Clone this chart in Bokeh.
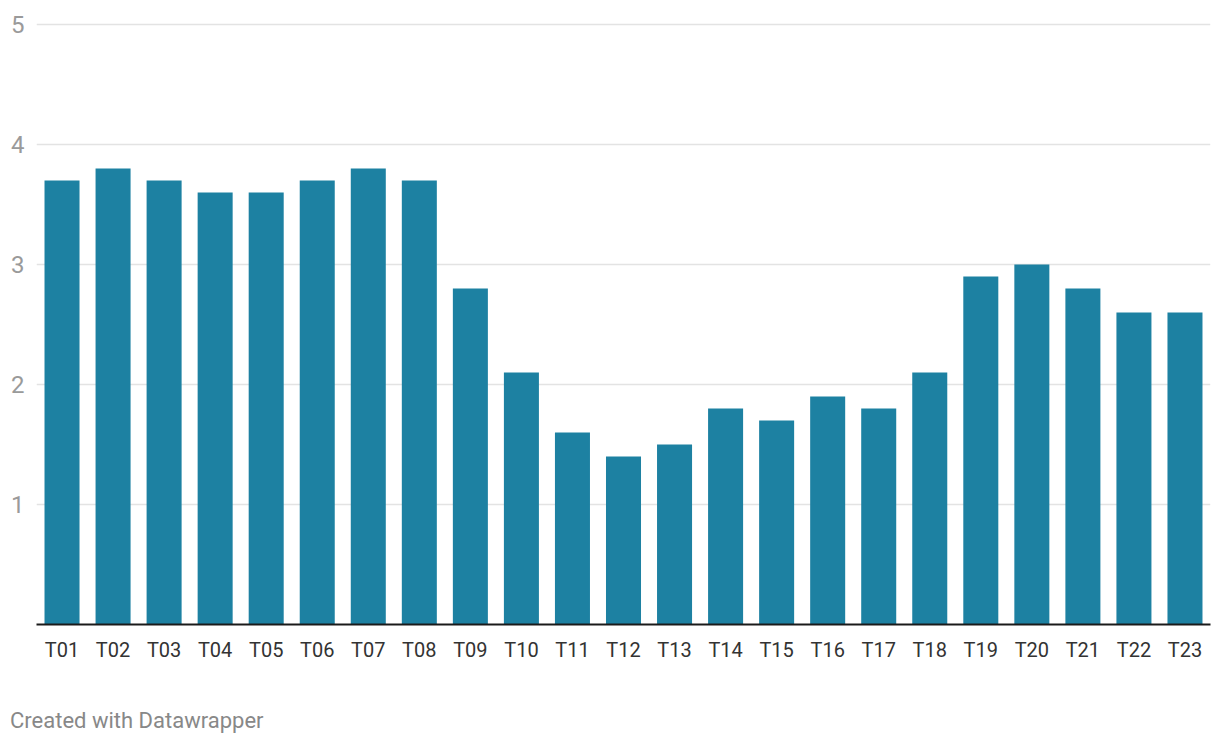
from bokeh.plotting import figure
from bokeh.models import FactorRange, Range1d, FixedTicker, ColumnDataSource, Div
from bokeh.layouts import column
from bokeh.embed import file_html
from bokeh.resources import INLINE

categories = ["T01", "T02", "T03", "T04", "T05", "T06", "T07", "T08", "T09", "T10",
              "T11", "T12", "T13", "T14", "T15", "T16", "T17", "T18", "T19", "T20",
              "T21", "T22", "T23"]
values = [3.7, 3.8, 3.7, 3.6, 3.6, 3.7, 3.8, 3.7, 2.8, 2.1,
          1.6, 1.4, 1.5, 1.8, 1.7, 1.9, 1.8, 2.1, 2.9, 3.0,
          2.8, 2.6, 2.6]
y_ticks = [1, 2, 3, 4, 5]
footer_text = "Created with Datawrapper"

source = ColumnDataSource(data=dict(cat=categories, val=values))

p = figure(
    width=1212, height=704,
    x_range=FactorRange(factors=categories, range_padding=0),
    y_range=Range1d(0, 5 + 2 / 120),
    output_backend="svg", toolbar_location=None,
    min_border_left=36, min_border_right=2, min_border_top=22, min_border_bottom=80,
)
p.outline_line_color = None
p.background_fill_color = "white"
p.border_fill_color = "white"

p.vbar(x="cat", top="val", width=0.686, bottom=0, source=source,
       fill_color="#1d81a2", line_color=None)

# y axis
p.yaxis.ticker = FixedTicker(ticks=y_ticks)
p.yaxis.axis_line_color = None
p.yaxis.major_tick_line_color = None
p.yaxis.minor_tick_line_color = None
p.yaxis.major_tick_out = 0
p.yaxis.major_tick_in = 0
p.yaxis.major_label_standoff = 12
p.yaxis.major_label_text_font = "Roboto"
p.yaxis.major_label_text_font_size = "24px"
p.yaxis.major_label_text_color = "#9a9a9a"

p.ygrid.ticker = FixedTicker(ticks=y_ticks)
p.ygrid.grid_line_color = "#e3e3e3"
p.ygrid.grid_line_width = 1.5
p.xgrid.grid_line_color = None

# x axis
p.xaxis.axis_line_color = "#1a1a1a"
p.xaxis.axis_line_width = 2
p.xaxis.major_tick_line_color = None
p.xaxis.minor_tick_line_color = None
p.xaxis.major_tick_out = 0
p.xaxis.major_tick_in = 0
p.xaxis.major_label_standoff = 13
p.xaxis.major_label_text_font = "Roboto"
p.xaxis.major_label_text_font_size = "20px"
p.xaxis.major_label_text_color = "#333333"

footer = Div(text=footer_text, width=400, height=30, margin=(4, 0, 0, 10),
             styles={"font-family": "Roboto", "font-size": "22px",
                     "color": "#888888", "line-height": "26px"})

layout = column(p, footer, spacing=0)

open("out.html", "w").write(file_html(layout, INLINE))
